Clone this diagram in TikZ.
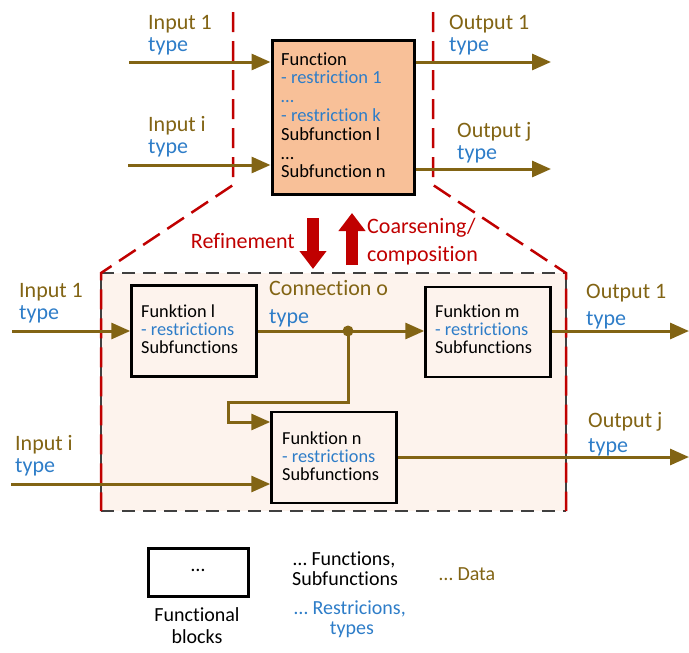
\documentclass[tikz,border=0pt]{standalone}
\usepackage{fontspec}
\setmainfont[Ligatures={NoCommon}]{Carlito}
\usetikzlibrary{arrows.meta}
\definecolor{brn}{RGB}{130,100,20}
\definecolor{blu}{RGB}{46,125,200}
\definecolor{rd}{RGB}{192,0,0}
\definecolor{peach}{RGB}{248,192,152}
\definecolor{lite}{RGB}{253,243,237}
\definecolor{dgray}{RGB}{64,64,64}
\tikzset{
 data/.style={draw=brn, line width=3pt, -{Triangle[length=19pt,width=16pt]}},
 lbl/.style={anchor=base west, inner sep=0pt, font=\fontsize{22}{24}\selectfont},
 boxtxt/.style={anchor=base west, inner sep=0pt, font=\fontsize{18.5}{20}\selectfont},
 blktxt/.style={anchor=base west, inner sep=0pt, font=\fontsize{18.3}{19}\selectfont},
 legtxt/.style={inner sep=0pt, font=\fontsize{20}{22}\selectfont},
 fblock/.style={draw=black, line width=2.5pt, fill=lite, inner sep=0pt},
 reddash/.style={draw=rd, line width=2.5pt, dash pattern=on 20pt off 9pt},
 bigarrow/.style={draw=rd, line width=12pt, -{Triangle[length=18pt,width=26pt]}},
}
\begin{document}
\begin{tikzpicture}[x=1pt,y=-1pt]
\useasboundingbox (0,0) rectangle (689,653);

% ---------- lower dashed region
\fill[lite] (101,273) rectangle (566,511);
\draw[dgray, line width=2pt, dash pattern=on 13pt off 8pt] (101,273) -- (566,273);
\draw[dgray, line width=2pt, dash pattern=on 13pt off 8pt] (101,511) -- (566,511);
\draw[dgray, line width=1.5pt] (101,273) -- (101,511);
\draw[dgray, line width=1.5pt] (566,273) -- (566,511);

% ---------- red refinement lines
\draw[reddash] (233,12) -- (233,185) -- (101,273) -- (101,511);
\draw[reddash] (433,12) -- (433,185) -- (566,273) -- (566,511);

% ---------- top function box
\node[draw=black, line width=3pt, fill=peach, minimum width=142pt, minimum height=154pt, inner sep=0pt] (F) at (343,117) {};
\node[boxtxt, text=black] (f1) at (281,65) {Function};
\node[boxtxt, text=blu] (f2) at (281,83.8) {- restriction 1};
\node[boxtxt, text=blu] (f3) at (281,102.6) {…};
\node[boxtxt, text=blu] (f4) at (281,121.4) {- restriction k};
\node[boxtxt, text=black] (f5) at (281,140.2) {Subfunction l};
\node[boxtxt, text=black] (f6) at (281,159) {…};
\node[boxtxt, text=black] (f7) at (281,177.8) {Subfunction n};

% top inputs / outputs
\coordinate (ti1) at (129,62);
\coordinate (tii) at (128,165);
\coordinate (to1) at (551,62);
\coordinate (toj) at (551,169);
\draw[data] (ti1) -- (ti1 -| F.west);
\draw[data] (tii) -- (tii -| F.west);
\draw[data] (F.east |- to1) -- (to1);
\draw[data] (F.east |- toj) -- (toj);
\node[lbl, text=brn] (la1) at (148,30) {Input 1};
\node[lbl, text=blu] (la2) at (148,52) {type};
\node[lbl, text=brn] (la3) at (148,131) {Input i};
\node[lbl, text=blu] (la4) at (148,153) {type};
\node[lbl, text=brn] (la5) at (449,30) {Output 1};
\node[lbl, text=blu] (la6) at (449,52) {type};
\node[lbl, text=brn] (la7) at (457,137) {Output j};
\node[lbl, text=blu] (la8) at (457,159) {type};

% ---------- refinement arrows
\coordinate (ra1) at (313,218);
\coordinate (ra2) at (313,269);
\coordinate (ca1) at (352,265);
\coordinate (ca2) at (352,213);
\draw[bigarrow] (ra1) -- (ra2);
\draw[bigarrow] (ca1) -- (ca2);
\node[lbl, text=rd, anchor=base east] (rf) at (295,248) {Refinement};
\node[lbl, text=rd] (co1) at (367,233) {Coarsening/};
\node[lbl, text=rd] (co2) at (367,261) {composition};

% ---------- inner blocks
\node[fblock, minimum width=125pt, minimum height=91pt] (L) at (194,331) {};
\node[fblock, minimum width=125pt, minimum height=90pt] (M) at (488,332) {};
\node[fblock, minimum width=125pt, minimum height=91pt] (N) at (334,457.5) {};

\node[blktxt, text=black] (l1) at (141,317) {Funktion l};
\node[blktxt, text=blu] (l2) at (141,335.3) {- restrictions};
\node[blktxt, text=black] (l3) at (141,353.6) {Subfunctions};
\node[blktxt, text=black] (m1) at (435,317) {Funktion m};
\node[blktxt, text=blu] (m2) at (435,335.3) {- restrictions};
\node[blktxt, text=black] (m3) at (435,353.6) {Subfunctions};
\node[blktxt, text=black] (n1) at (282,444) {Funktion n};
\node[blktxt, text=blu] (n2) at (282,462.3) {- restrictions};
\node[blktxt, text=black] (n3) at (282,480.6) {Subfunctions};

% inner connectors
\coordinate (bi1) at (12,331);
\coordinate (bii) at (11,484);
\coordinate (bo1) at (689,331);
\coordinate (boj) at (689,457);
\coordinate (dot) at (348,331);
\coordinate (nin) at (228,422);
\draw[data] (bi1) -- (bi1 -| L.west);
\draw[data] (L.east |- dot) -- (dot -| M.west);
\draw[data] (dot) -- (348,402) -- (228,402) -- (nin) -- (nin -| N.west);
\draw[data] (bii) -- (bii -| N.west);
\draw[data] (M.east |- bo1) -- (bo1);
\draw[data] (N.east |- boj) -- (boj);
\fill[brn] (dot) circle (5.5pt);

\node[lbl, text=brn] (b1) at (19,297) {Input 1};
\node[lbl, text=blu] (b2) at (19,319) {type};
\node[lbl, text=brn] (b3) at (15,450) {Input i};
\node[lbl, text=blu] (b4) at (15,472) {type};
\node[lbl, text=brn] (b5) at (269,295) {Connection o};
\node[lbl, text=blu] (b6) at (269,323) {type};
\node[lbl, text=brn] (b7) at (586,298) {Output 1};
\node[lbl, text=blu] (b8) at (586,325) {type};
\node[lbl, text=brn] (b9) at (588,427) {Output j};
\node[lbl, text=blu] (b10) at (588,452) {type};

% ---------- legend
\node[draw=black, line width=3pt, minimum width=100pt, minimum height=48pt, inner sep=0pt] (lg) at (198,572.5) {};
\node[legtxt] (lgd) at (198,570) {…};
\node[legtxt, anchor=base] (lg1) at (197,621) {Functional};
\node[legtxt, anchor=base] (lg2) at (197,643) {blocks};
\node[legtxt, anchor=base west] (lg3) at (293,565) {… Functions,};
\node[legtxt, anchor=base west] (lg4) at (292,585) {Subfunctions};
\node[legtxt, anchor=base west, text=blu] (lg5) at (294,614) {… Restricions,};
\node[legtxt, anchor=base, text=blu] (lg6) at (352,634) {types};
\node[legtxt, anchor=base west, text=brn] (lg7) at (439,580) {… Data};
\end{tikzpicture}
\end{document}
